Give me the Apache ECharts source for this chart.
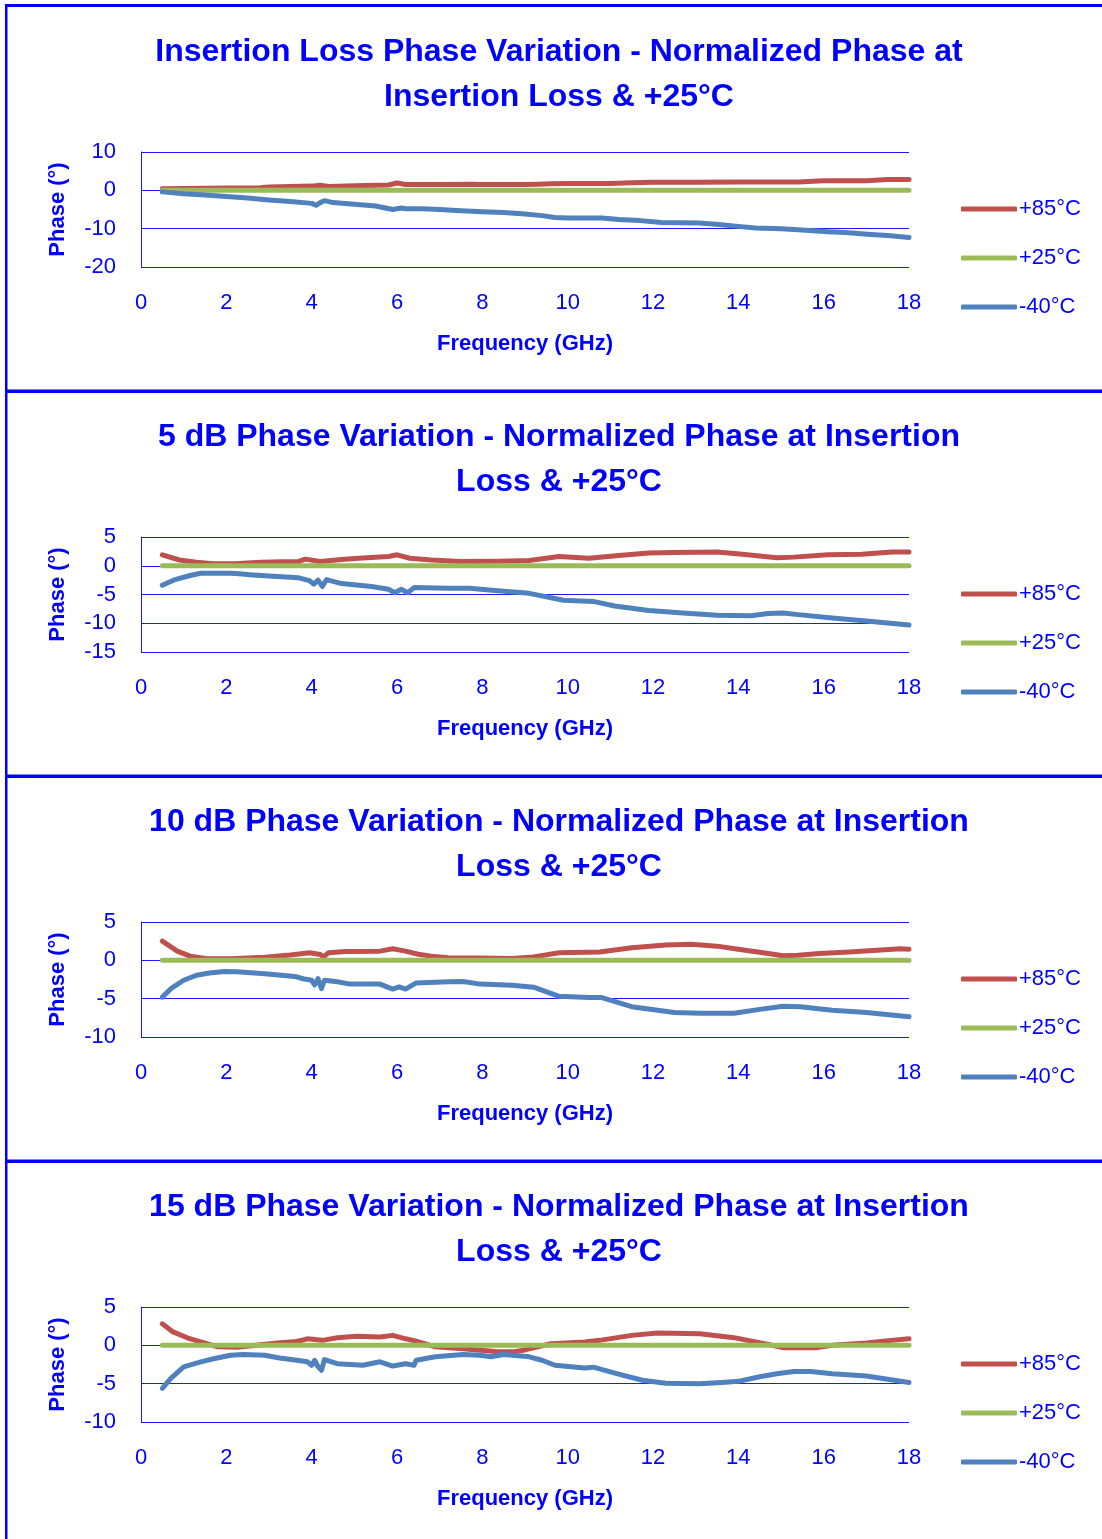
<!DOCTYPE html>
<html>
<head>
<meta charset="utf-8">
<script src="https://cdn.jsdelivr.net/npm/echarts@6/dist/echarts.min.js"></script>
<style>
html,body{margin:0;padding:0;background:#fff;}
#c{width:1102px;height:1539px;}
</style>
</head>
<body>
<div id="c"></div>
<script>
// ---------- DATA ----------
const TITLES = [
  "Insertion Loss Phase Variation - Normalized Phase at\nInsertion Loss & +25°C",
  "5 dB Phase Variation - Normalized Phase at Insertion\nLoss & +25°C",
  "10 dB Phase Variation - Normalized Phase at Insertion\nLoss & +25°C",
  "15 dB Phase Variation - Normalized Phase at Insertion\nLoss & +25°C"
];
const SERIES_NAMES = ["+85°C", "+25°C", "-40°C"];
const X_TITLE = "Frequency (GHz)";
const Y_TITLE = "Phase (°)";
const Y_MIN = [-20, -15, -10, -10];
const Y_MAX = [10, 5, 5, 5];
const Y_STEP = [10, 5, 5, 5];

// Panel 1: Insertion loss
const IL_F85 = [0.5,1,2,2.8,3,4,4.2,4.4,5,5.8,6,6.2,7,7.8,8,9,9.3,9.6,10,11,11.5,12,13,14,15,15.4,16,17,17.5,18];
const IL_P85 = [0.4,0.5,0.6,0.7,0.9,1.1,1.3,1.0,1.2,1.4,1.9,1.5,1.5,1.6,1.5,1.5,1.6,1.7,1.8,1.8,2.0,2.1,2.1,2.2,2.2,2.2,2.5,2.5,2.8,2.8];
const IL_F25 = [0.5,18];
const IL_P25 = [0,0];
const IL_F40 = [0.5,1,1.5,2,2.5,3,3.5,4.0,4.1,4.2,4.3,4.5,5,5.5,5.9,6.1,6.2,6.6,7,7.5,8,8.5,9,9.4,9.7,10,10.8,11.2,11.7,12.2,13.1,13.6,14,14.4,15,15.4,16.1,16.5,17.1,17.5,18];
const IL_P40 = [-0.4,-0.9,-1.2,-1.6,-2.0,-2.5,-2.9,-3.4,-3.9,-3.2,-2.7,-3.2,-3.6,-4.1,-5.0,-4.6,-4.8,-4.8,-5.0,-5.3,-5.6,-5.8,-6.2,-6.6,-7.1,-7.2,-7.2,-7.6,-7.9,-8.4,-8.5,-9.0,-9.4,-9.8,-10.0,-10.3,-10.8,-11.0,-11.5,-11.8,-12.3];

// Panel 2: 5 dB
const D5_F85 = [0.5,0.9,1.3,1.7,2.2,2.8,3.3,3.7,3.85,4.2,4.7,5.1,5.8,6.0,6.3,6.8,7.5,8.4,9.1,9.8,10.5,11.2,11.9,12.5,13.5,14.1,14.9,15.3,16.1,16.9,17.6,18];
const D5_P85 = [1.9,1.0,0.6,0.35,0.35,0.6,0.7,0.75,1.15,0.75,1.1,1.3,1.6,1.9,1.3,1.0,0.75,0.8,0.9,1.6,1.3,1.8,2.2,2.3,2.4,2.0,1.4,1.5,1.9,2.0,2.4,2.4];
const D5_F25 = [0.5,18];
const D5_P25 = [0,0];
const D5_F40 = [0.5,0.8,1.15,1.4,2.1,2.3,2.55,3.0,3.5,3.7,3.95,4.05,4.15,4.25,4.35,4.7,5.4,5.8,5.95,6.1,6.25,6.4,7.2,7.7,8.3,9.1,9.9,10.6,11.1,11.9,12.7,13.5,14.3,14.7,15.05,15.4,16.2,17.0,18];
const D5_P40 = [-3.4,-2.4,-1.7,-1.3,-1.3,-1.4,-1.55,-1.8,-2.0,-2.1,-2.6,-3.2,-2.5,-3.6,-2.4,-3.1,-3.6,-4.1,-4.7,-4.1,-4.7,-3.8,-3.9,-3.9,-4.3,-4.8,-6.0,-6.2,-7.0,-7.8,-8.2,-8.6,-8.7,-8.3,-8.2,-8.5,-9.1,-9.6,-10.3];

// Panel 3: 10 dB
const D10_F85 = [0.5,0.85,1.15,1.55,2.1,2.9,3.5,3.95,4.2,4.27,4.4,4.8,5.6,5.9,6.2,6.5,6.8,7.2,7.9,8.7,9.2,9.8,10.75,11.5,12.3,12.9,13.5,14.0,14.7,15.05,15.4,15.9,16.6,17.25,17.8,18];
const D10_P85 = [2.5,1.2,0.55,0.2,0.2,0.4,0.7,1.0,0.75,0.45,1.0,1.15,1.2,1.5,1.2,0.8,0.55,0.35,0.3,0.25,0.45,1.0,1.1,1.65,2.0,2.1,1.85,1.45,0.9,0.6,0.65,0.9,1.1,1.3,1.5,1.45];
const D10_F25 = [0.5,18];
const D10_P25 = [0,0];
const D10_F40 = [0.5,0.7,1.0,1.3,1.6,1.95,2.25,2.9,3.3,3.65,3.8,4.0,4.07,4.15,4.23,4.3,4.6,4.9,5.6,5.9,6.05,6.2,6.45,7.2,7.55,7.95,8.7,9.2,9.8,10.5,10.8,11.5,12.5,13.1,13.9,14.5,15.05,15.45,16.2,17.0,18];
const D10_P40 = [-4.8,-3.7,-2.6,-1.95,-1.65,-1.45,-1.5,-1.75,-1.95,-2.15,-2.4,-2.6,-3.2,-2.4,-3.7,-2.6,-2.8,-3.1,-3.1,-3.75,-3.45,-3.75,-2.95,-2.8,-2.75,-3.1,-3.25,-3.5,-4.7,-4.85,-4.85,-6.05,-6.8,-6.9,-6.9,-6.4,-6.0,-6.05,-6.5,-6.8,-7.35];

// Panel 4: 15 dB
const D15_F85 = [0.5,0.75,1.1,1.4,1.8,2.25,2.7,3.25,3.65,3.9,4.25,4.6,5.05,5.6,5.9,6.2,6.45,6.9,7.55,8.3,8.7,9.0,9.6,10.4,10.75,11.5,12.1,13.1,13.9,14.7,15.05,15.85,16.2,17.0,17.4,18];
const D15_P85 = [2.8,1.75,0.95,0.45,-0.2,-0.25,0.0,0.35,0.5,0.85,0.65,1.0,1.2,1.1,1.3,0.85,0.55,-0.2,-0.45,-0.8,-0.85,-0.6,0.2,0.45,0.65,1.3,1.6,1.5,1.0,0.1,-0.3,-0.3,0.0,0.3,0.55,0.85];
const D15_F25 = [0.5,18];
const D15_P25 = [0,0];
const D15_F40 = [0.5,0.7,1.0,1.4,1.7,2.1,2.4,2.9,3.25,3.65,3.9,4.0,4.07,4.15,4.23,4.3,4.6,5.2,5.6,5.9,6.2,6.4,6.45,6.9,7.55,7.95,8.2,8.5,9.1,9.4,9.7,10.4,10.6,11.15,11.75,12.3,13.1,13.7,14.0,14.5,14.9,15.3,15.7,16.2,17.0,18];
const D15_P40 = [-5.6,-4.3,-2.8,-2.15,-1.75,-1.3,-1.2,-1.3,-1.65,-1.95,-2.15,-2.6,-1.95,-2.8,-3.25,-1.85,-2.4,-2.6,-2.15,-2.7,-2.4,-2.6,-1.95,-1.5,-1.2,-1.3,-1.5,-1.2,-1.5,-1.95,-2.6,-2.95,-2.85,-3.7,-4.55,-4.95,-5.0,-4.8,-4.7,-4.1,-3.7,-3.4,-3.4,-3.7,-4.0,-4.85];

const PANELS = [
  [[IL_F85, IL_P85], [IL_F25, IL_P25], [IL_F40, IL_P40]],
  [[D5_F85, D5_P85], [D5_F25, D5_P25], [D5_F40, D5_P40]],
  [[D10_F85, D10_P85], [D10_F25, D10_P25], [D10_F40, D10_P40]],
  [[D15_F85, D15_P85], [D15_F25, D15_P25], [D15_F40, D15_P40]]
];

// ---------- STYLE ----------
const BLUE = '#0000ff';
const GRID_BLUE = '#1a1aff';
const COLORS = ['#C0504D', '#9BBB59', '#4F81BD'];
const FONT = "'Liberation Sans', Arial, sans-serif";
const PANEL_H = 385;

const zip = (xs, ys) => xs.map((x, i) => [x, ys[i]]);

const title = [], grid = [], xAxis = [], yAxis = [], series = [], legend = [];
for (let p = 0; p < 4; p++) {
  const off = p * PANEL_H;
  title.push({
    text: TITLES[p], left: 559, top: 30 + off, textAlign: 'center', padding: 0,
    textStyle: { color: BLUE, fontSize: 32, fontWeight: 'bold', fontFamily: FONT, lineHeight: 45 }
  });
  grid.push({ left: 141, right: 193, top: 152 + off, height: 115, containLabel: false });
  xAxis.push({
    gridIndex: p, type: 'value', min: 0, max: 18, interval: 2,
    name: X_TITLE, nameLocation: 'middle', nameGap: 66,
    nameTextStyle: { color: BLUE, fontSize: 22, fontWeight: 'bold', fontFamily: FONT },
    axisLine: { show: false, onZero: false }, axisTick: { show: false },
    splitLine: { show: false },
    axisLabel: { color: BLUE, fontSize: 22, fontFamily: FONT, margin: 25 }
  });
  yAxis.push({
    gridIndex: p, type: 'value', min: Y_MIN[p], max: Y_MAX[p], interval: Y_STEP[p],
    name: Y_TITLE, nameLocation: 'middle', nameGap: 72, nameRotate: 90,
    nameTextStyle: { color: BLUE, fontSize: 22, fontWeight: 'bold', fontFamily: FONT },
    axisLine: { show: true, lineStyle: { color: GRID_BLUE, width: 1 } },
    axisTick: { show: false },
    splitLine: { show: true, lineStyle: { color: GRID_BLUE, width: 1 } },
    axisLabel: { color: BLUE, fontSize: 22, fontFamily: FONT, margin: 25 }
  });
  PANELS[p].forEach((s, k) => {
    series.push({
      name: SERIES_NAMES[k], type: 'line', xAxisIndex: p, yAxisIndex: p,
      data: zip(s[0], s[1]), showSymbol: false, symbol: 'none', smooth: false,
      lineStyle: { color: COLORS[k], width: 5, cap: 'round', join: 'round' },
      itemStyle: { color: COLORS[k] }, animation: false, z: 2 + k
    });
  });
  legend.push({
    orient: 'vertical', left: 961, top: 198 + off, padding: 0,
    itemWidth: 56, itemHeight: 5, itemGap: 27, icon: 'roundRect',
    selectedMode: false,
    data: SERIES_NAMES,
    textStyle: { color: BLUE, fontSize: 22, fontFamily: FONT, lineHeight: 20, padding: [0, 0, 0, -3] }
  });
}

const graphic = [
  { type: 'rect', shape: { x: 5, y: 4, width: 1097, height: 3 }, style: { fill: BLUE }, z: 100 },
  { type: 'rect', shape: { x: 5, y: 389.5, width: 1097, height: 3.5 }, style: { fill: BLUE }, z: 100 },
  { type: 'rect', shape: { x: 5, y: 774.5, width: 1097, height: 3.5 }, style: { fill: BLUE }, z: 100 },
  { type: 'rect', shape: { x: 5, y: 1159.5, width: 1097, height: 3.5 }, style: { fill: BLUE }, z: 100 },
  { type: 'rect', shape: { x: 5, y: 4, width: 2.5, height: 1535 }, style: { fill: BLUE }, z: 100 }
];

const chart = echarts.init(document.getElementById('c'), null, { renderer: 'canvas' });
chart.setOption({
  animation: false, backgroundColor: '#fff',
  title, grid, xAxis, yAxis, series, legend, graphic
});
</script>
</body>
</html>
